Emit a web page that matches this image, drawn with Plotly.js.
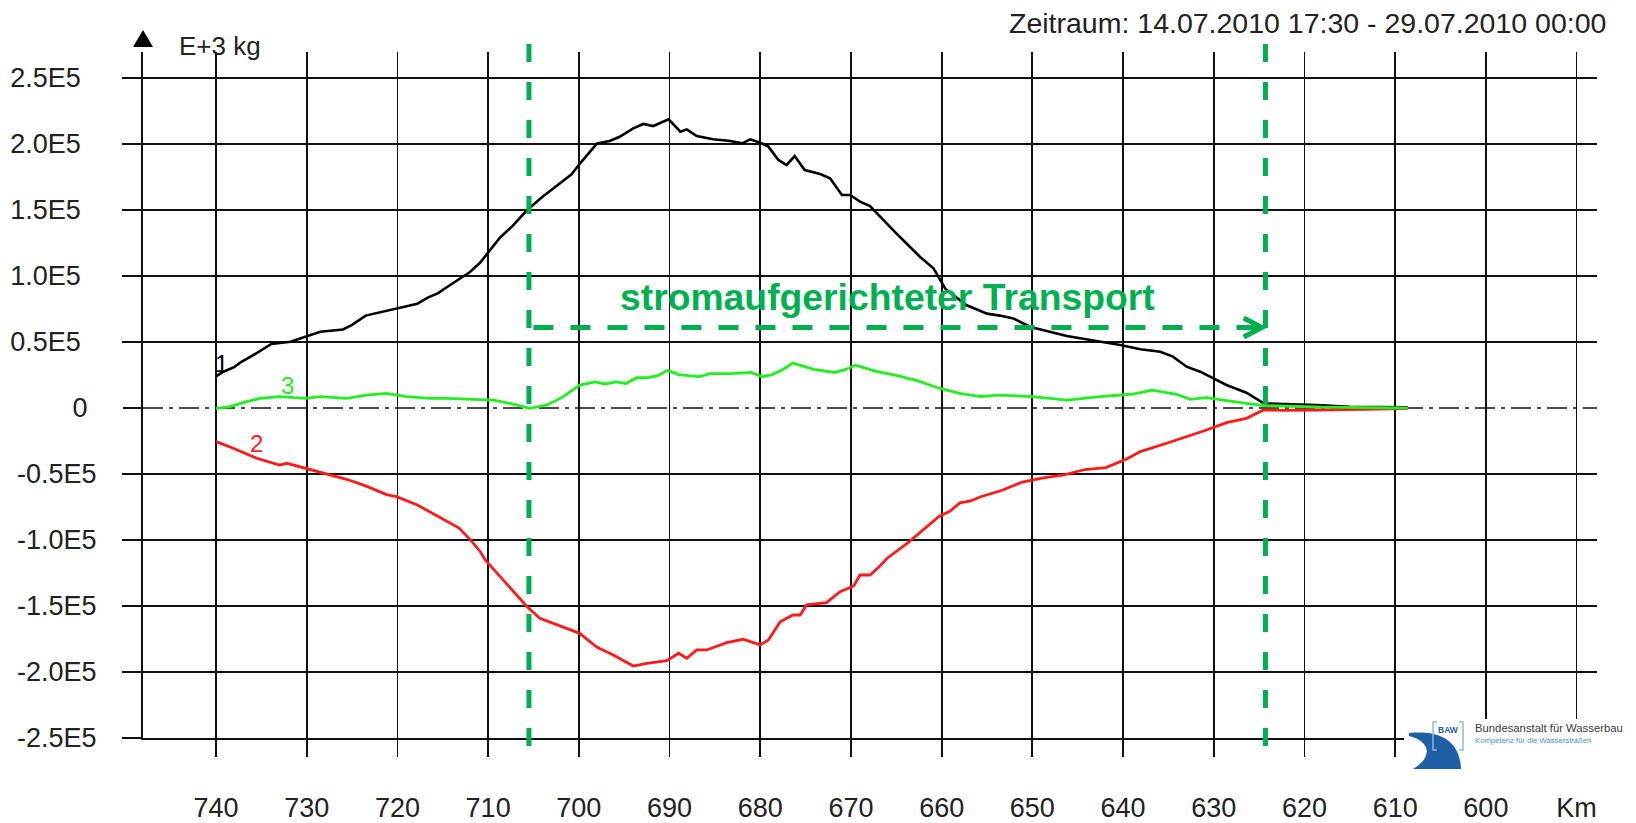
<!DOCTYPE html>
<html><head><meta charset="utf-8">
<script src="https://cdn.plot.ly/plotly-3.0.1.min.js"></script>
<style>html,body{margin:0;padding:0;background:#fff;}#chart{width:1636px;height:823px;}</style>
</head><body><div id="chart"></div>
<script>
// ---- data (km, value in E+3 kg) ----
const km1 = [740.0,739.2,738.0,737.2,735.9,734.8,733.9,731.8,730.2,728.5,726.0,725.0,723.5,721.2,718.9,717.8,716.6,715.5,714.9,713.2,712.0,710.9,709.7,708.7,707.3,705.7,704.0,702.1,700.8,699.9,698.0,696.6,695.5,694.0,692.9,691.8,690.1,688.8,688.1,687.0,685.2,683.3,682.0,681.1,680.0,679.1,678.0,677.1,676.2,675.1,673.4,672.3,671.0,670.1,669.0,667.9,666.8,665.0,663.9,662.4,660.9,659.6,657.3,655.0,653.6,652.1,650.3,648.0,646.2,643.6,640.3,638.1,635.9,634.5,633.0,631.5,630.0,628.6,626.4,624.5,622.3,618.6,615.0,611.0,608.6];
const val1 = [24000,27500,31000,35000,40000,45000,48500,50200,54000,57800,59500,63000,70000,73500,77500,79000,83800,87000,90000,98000,103000,110000,120000,129000,138000,150000,160000,170000,177000,185000,200500,202300,205500,211900,215200,213600,218700,209300,211100,206000,203600,202300,200500,203500,201000,198000,187900,184100,190900,180300,177300,174000,161400,161400,156300,153000,144900,132300,124800,114600,105800,90400,78000,71500,70000,67900,61600,57800,54500,51500,47700,44500,42600,38900,31300,27500,22500,17400,11600,3600,3000,2300,1000,600,500];

const km2 = [740.0,738.1,735.5,733.0,732.2,730.2,727.4,725.6,723.5,721.2,720.1,717.8,715.5,713.2,712.0,710.9,710.3,708.3,705.7,704.3,702.4,699.9,698.0,696.2,694.0,692.5,690.3,689.0,688.1,687.0,685.9,683.7,681.9,680.0,679.1,677.8,676.4,675.6,674.9,672.7,671.2,669.7,669.0,667.9,666.8,666.0,663.7,662.6,660.3,659.1,658.0,656.8,655.7,653.4,652.5,651.1,648.8,646.5,644.2,641.9,639.6,638.1,635.2,633.0,630.8,628.6,626.4,624.5,622.4,618.6,615.0,608.6];
const val2 = [-25500,-30500,-38100,-43200,-41900,-45700,-50800,-54000,-59000,-65600,-67200,-73500,-82200,-91000,-99500,-108500,-115200,-130300,-150500,-159300,-164400,-170700,-181300,-187100,-195500,-193400,-191400,-185800,-189600,-183300,-183300,-177800,-175200,-179500,-175800,-161900,-156800,-156800,-149200,-147500,-139100,-134800,-126500,-126500,-119700,-113800,-102000,-95600,-82200,-78300,-71900,-70400,-67200,-62500,-60000,-56100,-53000,-50600,-46600,-45100,-38700,-33000,-26700,-21700,-16700,-11100,-7800,-1500,-1800,-1500,-1000,-500];

const km3 = [740.0,738.5,736.6,735.1,733.0,730.2,728.5,725.6,723.4,721.2,719.0,716.4,714.6,712.0,709.4,707.6,705.4,703.5,701.7,699.9,698.2,697.1,695.9,694.8,693.6,692.5,691.3,690.2,689.0,687.9,686.7,685.6,683.3,681.0,679.8,678.7,677.5,676.4,675.2,674.1,671.8,670.6,669.5,667.2,664.9,662.6,660.3,658.0,655.7,653.6,650.0,646.2,642.5,638.9,636.8,634.1,632.6,630.8,627.8,624.5,622.4,618.0,608.6];
const val3 = [-500,1000,4800,7300,8600,7300,8600,7300,9800,11100,8600,7300,7300,6600,6000,3500,-200,2300,8600,17400,19800,18200,19800,18600,22900,22900,24500,28500,25300,24500,23700,26100,26100,26900,23700,25300,29200,34000,31600,29200,26900,29200,32400,27700,24500,20500,15000,11000,8700,9800,8600,6000,8600,10600,13600,10400,6600,7800,4800,1800,1500,600,0];

const yPosVals = [250000,200000,150000,100000,50000];
const yPosText = ['2.5E5','2.0E5','1.5E5','1.0E5','0.5E5'];
const yNegVals = [-50000,-100000,-150000,-200000,-250000];
const yNegText = ['-0.5E5','-1.0E5','-1.5E5','-2.0E5','-2.5E5'];
const xTickVals = [740,730,720,710,700,690,680,670,660,650,640,630,620,610,600,590];
const xTickText = ['740','730','720','710','700','690','680','670','660','650','640','630','620','610','600','Km'];

const markerKm = [705.5, 624.3];   // green boundaries
const arrowStartKm = 705.0, arrowEndKm = 624.7, arrowY = 61000;
const titleText = 'Zeitraum: 14.07.2010 17:30 - 29.07.2010 00:00';
const unitText = 'E+3 kg';
const transportText = 'stromaufgerichteter Transport';

// ---- layout geometry ----
const W = 1636, H = 823, L = 143, R = 39, T = 52, B = 85;
const PW = W - L - R, PH = H - T - B;
const pxX = x => (x - L) / PW;
const pxY = y => (T + PH - y) / PH;
const pathPx = pts => pts.map(p => (p[0] === 'Z' ? 'Z' : (p[0] + ' ' + pxX(p[1]) + ',' + pxY(p[2])))).join(' ');

const FONT = 'Liberation Sans, Arial, sans-serif';
const INK = '#111';
const GREEN = '#00b050';

const traces = [
  {x: km1, y: val1, mode: 'lines', line: {color: '#000', width: 2.6}, hoverinfo: 'skip', showlegend: false},
  {x: km2, y: val2, mode: 'lines', line: {color: '#ff1a1a', width: 2.8}, hoverinfo: 'skip', showlegend: false},
  {x: km3, y: val3, mode: 'lines', line: {color: '#22ee22', width: 2.8}, hoverinfo: 'skip', showlegend: false},
  {x: [], y: [], yaxis: 'y2', mode: 'lines', hoverinfo: 'skip', showlegend: false},
  {x: [], y: [], yaxis: 'y3', mode: 'lines', hoverinfo: 'skip', showlegend: false}
];

const shapes = [
  {type: 'line', xref: 'paper', x0: 0, x1: 1, yref: 'y', y0: 0, y1: 0, layer: 'below',
   line: {color: INK, width: 1.4, dash: '20px,6px,4px,6px'}},
  ...markerKm.map(k => ({type: 'line', xref: 'x', x0: k, x1: k, yref: 'paper', y0: pxY(746), y1: pxY(42), layer: 'above',
    line: {color: GREEN, width: 5, dash: '18px,20px'}})),
  {type: 'line', xref: 'x', x0: arrowStartKm, x1: arrowEndKm, yref: 'y', y0: arrowY, y1: arrowY, layer: 'above',
   line: {color: GREEN, width: 5, dash: '20px,17px'}},
  {type: 'path', xref: 'x', yref: 'y', layer: 'above',
   path: `M ${arrowEndKm + 2.0},${arrowY + 7200} L ${arrowEndKm},${arrowY} L ${arrowEndKm + 2.0},${arrowY - 7200}`,
   line: {color: GREEN, width: 5}},
  {type: 'path', xref: 'paper', yref: 'paper', layer: 'above', fillcolor: '#000', line: {width: 0},
   path: pathPx([['M',133,47],['L',153,47],['L',143,30],['Z']])},
  {type: 'rect', xref: 'paper', yref: 'paper', layer: 'above', x0: pxX(1404), x1: pxX(1634), y0: pxY(771), y1: pxY(719),
   fillcolor: '#fff', line: {width: 0}},
  {type: 'path', xref: 'paper', yref: 'paper', layer: 'above', fillcolor: '#1f5fa5', line: {width: 0},
   path: `M ${pxX(1409)},${pxY(733)} C ${pxX(1442)},${pxY(730)} ${pxX(1460)},${pxY(742)} ${pxX(1461)},${pxY(769)} L ${pxX(1413)},${pxY(769)} C ${pxX(1432)},${pxY(758)} ${pxX(1432)},${pxY(742)} ${pxX(1409)},${pxY(736)} Z`},
  {type: 'path', xref: 'paper', yref: 'paper', layer: 'above', line: {color: '#8fb8e0', width: 1.5},
   path: pathPx([['M',1437,722],['L',1433,722],['L',1433,750],['L',1437,750]])},
  {type: 'path', xref: 'paper', yref: 'paper', layer: 'above', line: {color: '#8fb8e0', width: 1.5},
   path: pathPx([['M',1459,722],['L',1463,722],['L',1463,750],['L',1459,750]])}
];

const ann = (text, x, y, opts) => Object.assign({text, x, y, xref: 'paper', yref: 'paper', showarrow: false}, opts);
const annotations = [
  ann(titleText, pxX(1608), pxY(23), {xanchor: 'right', yanchor: 'middle', font: {family: FONT, size: 28.5, color: '#222'}}),
  ann(unitText, pxX(177), pxY(46), {xanchor: 'left', yanchor: 'middle', font: {family: FONT, size: 26, color: '#222'}}),
  {text: '<b>' + transportText + '</b>', x: 666.0, y: 84000, xref: 'x', yref: 'y', showarrow: false,
   xanchor: 'center', yanchor: 'middle', font: {family: FONT, size: 37.3, color: GREEN}},
  {text: '1', x: 739.4, y: 34000, xref: 'x', yref: 'y', showarrow: false, font: {family: FONT, size: 24, color: '#000'}},
  {text: '3', x: 732.1, y: 16700, xref: 'x', yref: 'y', showarrow: false, font: {family: FONT, size: 24, color: '#22ee22'}},
  {text: '2', x: 735.5, y: -26700, xref: 'x', yref: 'y', showarrow: false, font: {family: FONT, size: 24, color: '#ff1a1a'}},
  ann('<b>BAW</b>', pxX(1448), pxY(730), {xanchor: 'center', yanchor: 'middle', font: {family: FONT, size: 8.5, color: '#1f5fa5'}}),
  ann('Bundesanstalt für Wasserbau', pxX(1473), pxY(728), {xanchor: 'left', yanchor: 'middle', font: {family: FONT, size: 11.3, color: '#3a3a3a'}}),
  ann('Kompetenz für die Wasserstraßen', pxX(1473), pxY(740), {xanchor: 'left', yanchor: 'middle', font: {family: FONT, size: 7.7, color: '#4a8fd0'}})
];

const yRange = [-250000, 269700];
const yCommon = {range: yRange, fixedrange: true, zeroline: false, ticks: 'outside', ticklen: 19, tickwidth: 1.8,
  tickcolor: INK, tickfont: {family: FONT, size: 27, color: '#222'}, tickmode: 'array'};

const layout = {
  width: W, height: H, margin: {l: L, r: R, t: T, b: B, pad: 0},
  paper_bgcolor: '#fff', plot_bgcolor: '#fff', showlegend: false,
  xaxis: {range: [748.05, 587.75], tickmode: 'array', tickvals: xTickVals, ticktext: xTickText,
    showgrid: true, gridcolor: INK, gridwidth: 1.8, zeroline: false, showline: true, linecolor: INK, linewidth: 1.8,
    ticks: 'outside', ticklen: 17, tickwidth: 1.8, tickcolor: INK, tickfont: {family: FONT, size: 27, color: '#222'},
    ticklabelstandoff: 28, fixedrange: true},
  yaxis: Object.assign({}, yCommon, {tickvals: yPosVals.concat(yNegVals), ticktext: yPosText.concat(yNegVals.map(() => '')),
    showgrid: true, gridcolor: INK, gridwidth: 1.8, showline: true, linecolor: INK, linewidth: 1.8, ticklabelstandoff: 36}),
  yaxis2: Object.assign({}, yCommon, {overlaying: 'y', anchor: 'x', side: 'left', tickvals: [0], ticktext: ['0'],
    showgrid: false, showline: false, ticklabelstandoff: 30}),
  yaxis3: Object.assign({}, yCommon, {overlaying: 'y', anchor: 'x', side: 'left', tickvals: yNegVals, ticktext: yNegText,
    showgrid: false, showline: false, ticklabelstandoff: 21}),
  shapes, annotations
};

Plotly.newPlot('chart', traces, layout, {staticPlot: true, displayModeBar: false});
</script></body></html>
